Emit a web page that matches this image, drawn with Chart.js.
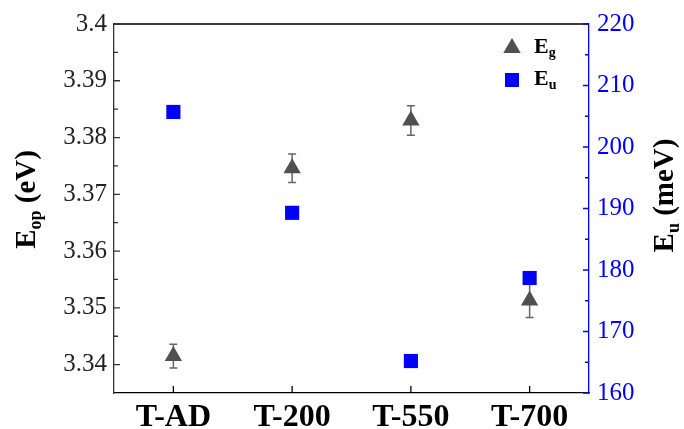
<!DOCTYPE html>
<html>
<head>
<meta charset="utf-8">
<script src="https://cdn.jsdelivr.net/npm/chart.js@4/dist/chart.umd.min.js"></script>
<style>
  body { margin: 0; background: #fff; }
  #wrap { width: 684px; height: 429px; }
</style>
</head>
<body>
<div id="wrap"><canvas id="chart" width="684" height="429"></canvas></div>
<script>
// samples on the x axis
const categories = ['T-AD', 'T-200', 'T-550', 'T-700'];
// optical gap E_op (eV), left axis, with error bars
const egValues = [3.3415, 3.3746, 3.383, 3.3513];
const egErrors = [0.0021, 0.0025, 0.0026, 0.003];
// Urbach energy E_u (meV), right axis
const euValues = [205.7, 189.3, 165.2, 178.7];
// tick labels
const leftTicks = [3.34, 3.35, 3.36, 3.37, 3.38, 3.39, 3.4];
const rightTicks = [160, 170, 180, 190, 200, 210, 220];

const SERIF = "'Liberation Serif', 'Times New Roman', serif";
const GREY = '#505050';
const BLUE = '#0000ff';

// text with a subscript, e.g. E + op
function subWidth(ctx, main, sub, rest, size) {
  ctx.font = 'bold ' + size + 'px ' + SERIF;
  let w = ctx.measureText(main).width + ctx.measureText(rest).width;
  ctx.font = 'bold ' + Math.round(size * 0.62) + 'px ' + SERIF;
  return w + ctx.measureText(sub).width;
}
function drawSub(ctx, x, y, main, sub, rest, size, color) {
  ctx.fillStyle = color;
  ctx.textBaseline = 'alphabetic';
  ctx.textAlign = 'left';
  ctx.font = 'bold ' + size + 'px ' + SERIF;
  ctx.fillText(main, x, y);
  x += ctx.measureText(main).width;
  ctx.font = 'bold ' + Math.round(size * 0.62) + 'px ' + SERIF;
  ctx.fillText(sub, x, y + size * 0.2);
  x += ctx.measureText(sub).width;
  ctx.font = 'bold ' + size + 'px ' + SERIF;
  ctx.fillText(rest, x, y);
}

const extras = {
  id: 'extras',
  beforeDatasetsDraw(chart) {
    // error bars for E_g
    const { ctx, scales: { x, y } } = chart;
    ctx.save();
    ctx.strokeStyle = '#666';
    ctx.lineWidth = 1.5;
    egValues.forEach((v, i) => {
      const px = x.getPixelForValue(i);
      const top = y.getPixelForValue(v + egErrors[i]);
      const bot = y.getPixelForValue(v - egErrors[i]);
      ctx.beginPath();
      ctx.moveTo(px, top); ctx.lineTo(px, bot);
      ctx.moveTo(px - 4, top); ctx.lineTo(px + 4, top);
      ctx.moveTo(px - 4, bot); ctx.lineTo(px + 4, bot);
      ctx.stroke();
    });
    ctx.restore();
  },
  afterDraw(chart) {
    const { ctx, chartArea: a, scales: { x, y, y1 } } = chart;
    ctx.save();
    ctx.lineWidth = 1.3;
    // top frame line
    ctx.strokeStyle = '#000';
    ctx.beginPath();
    ctx.moveTo(a.left, a.top); ctx.lineTo(a.right, a.top);
    ctx.stroke();
    // inward ticks, left axis
    ctx.strokeStyle = '#333';
    ctx.beginPath();
    leftTicks.forEach(v => {
      const py = y.getPixelForValue(v);
      ctx.moveTo(a.left, py); ctx.lineTo(a.left + 6, py);
      const m = y.getPixelForValue(v + 0.005);
      if (v + 0.005 < 3.4) { ctx.moveTo(a.left, m); ctx.lineTo(a.left + 4, m); }
    });
    ctx.stroke();
    // inward ticks, right axis
    ctx.strokeStyle = BLUE;
    ctx.beginPath();
    rightTicks.forEach(v => {
      const py = y1.getPixelForValue(v);
      ctx.moveTo(a.right, py); ctx.lineTo(a.right - 6, py);
      if (v + 5 < 220) {
        const m = y1.getPixelForValue(v + 5);
        ctx.moveTo(a.right, m); ctx.lineTo(a.right - 4, m);
      }
    });
    ctx.stroke();
    // x ticks
    ctx.strokeStyle = '#000';
    ctx.beginPath();
    categories.forEach((c, i) => {
      const px = x.getPixelForValue(i);
      ctx.moveTo(px, a.bottom); ctx.lineTo(px, a.bottom - 7);
    });
    ctx.stroke();

    // axis titles
    const mid = (a.top + a.bottom) / 2;
    let w = subWidth(ctx, 'E', 'op', ' (eV)', 29);
    ctx.save();
    ctx.translate(35, mid - 9);
    ctx.rotate(-Math.PI / 2);
    drawSub(ctx, -w / 2, 0, 'E', 'op', ' (eV)', 29, '#000');
    ctx.restore();
    w = subWidth(ctx, 'E', 'u', ' (meV)', 29);
    ctx.save();
    ctx.translate(673, mid - 13);
    ctx.rotate(-Math.PI / 2);
    drawSub(ctx, -w / 2, 0, 'E', 'u', ' (meV)', 29, '#000');
    ctx.restore();

    // legend
    const lx = 512;
    ctx.fillStyle = GREY;
    ctx.beginPath();
    ctx.moveTo(lx, 38); ctx.lineTo(lx + 8.7, 53); ctx.lineTo(lx - 8.7, 53);
    ctx.closePath();
    ctx.fill();
    ctx.fillStyle = BLUE;
    ctx.fillRect(lx - 7, 73, 14, 14);
    drawSub(ctx, 534, 53, 'E', 'g', '', 22, '#000');
    drawSub(ctx, 534, 85, 'E', 'u', '', 22, '#000');
    ctx.restore();
  }
};

new Chart(document.getElementById('chart').getContext('2d'), {
  type: 'line',
  data: {
    labels: categories,
    datasets: [{
      label: 'Eg',
      data: egValues,
      yAxisID: 'y',
      showLine: false,
      pointStyle: 'triangle',
      pointRadius: 10,
      pointHoverRadius: 10,
      borderWidth: 0,
      backgroundColor: GREY,
      borderColor: GREY,
    }, {
      label: 'Eu',
      data: euValues,
      yAxisID: 'y1',
      showLine: false,
      pointStyle: 'rect',
      pointRadius: 10,
      pointHoverRadius: 10,
      borderWidth: 0,
      backgroundColor: BLUE,
      borderColor: BLUE,
    }],
  },
  options: {
    responsive: false,
    animation: false,
    events: [],
    layout: { padding: { top: 24, left: 0, right: 0, bottom: 0 } },
    plugins: { legend: { display: false }, tooltip: { enabled: false } },
    scales: {
      x: {
        type: 'category',
        offset: true,
        grid: { display: false, drawTicks: false },
        border: { display: true, color: '#000', width: 1.3 },
        ticks: { color: '#000', padding: 6, font: { family: SERIF, size: 32, weight: 'bold' } },
        afterFit(s) { s.height = 36; },
      },
      y: {
        position: 'left',
        min: 3.335,
        max: 3.4,
        grid: { display: false, drawTicks: false },
        border: { display: true, color: '#333', width: 1.3 },
        ticks: {
          color: '#222', padding: 7,
          font: { family: SERIF, size: 25 },
          callback: v => String(+v.toFixed(2)),
        },
        afterBuildTicks(s) { s.ticks = leftTicks.map(v => ({ value: v })); },
        afterFit(s) { s.width = 114; },
      },
      y1: {
        position: 'right',
        min: 160,
        max: 220,
        grid: { display: false, drawTicks: false },
        border: { display: true, color: BLUE, width: 1.3 },
        ticks: { color: BLUE, padding: 8, font: { family: SERIF, size: 25 } },
        afterBuildTicks(s) { s.ticks = rightTicks.map(v => ({ value: v })); },
        afterFit(s) { s.width = 95; },
      },
    },
  },
  plugins: [extras],
});
</script>
</body>
</html>
